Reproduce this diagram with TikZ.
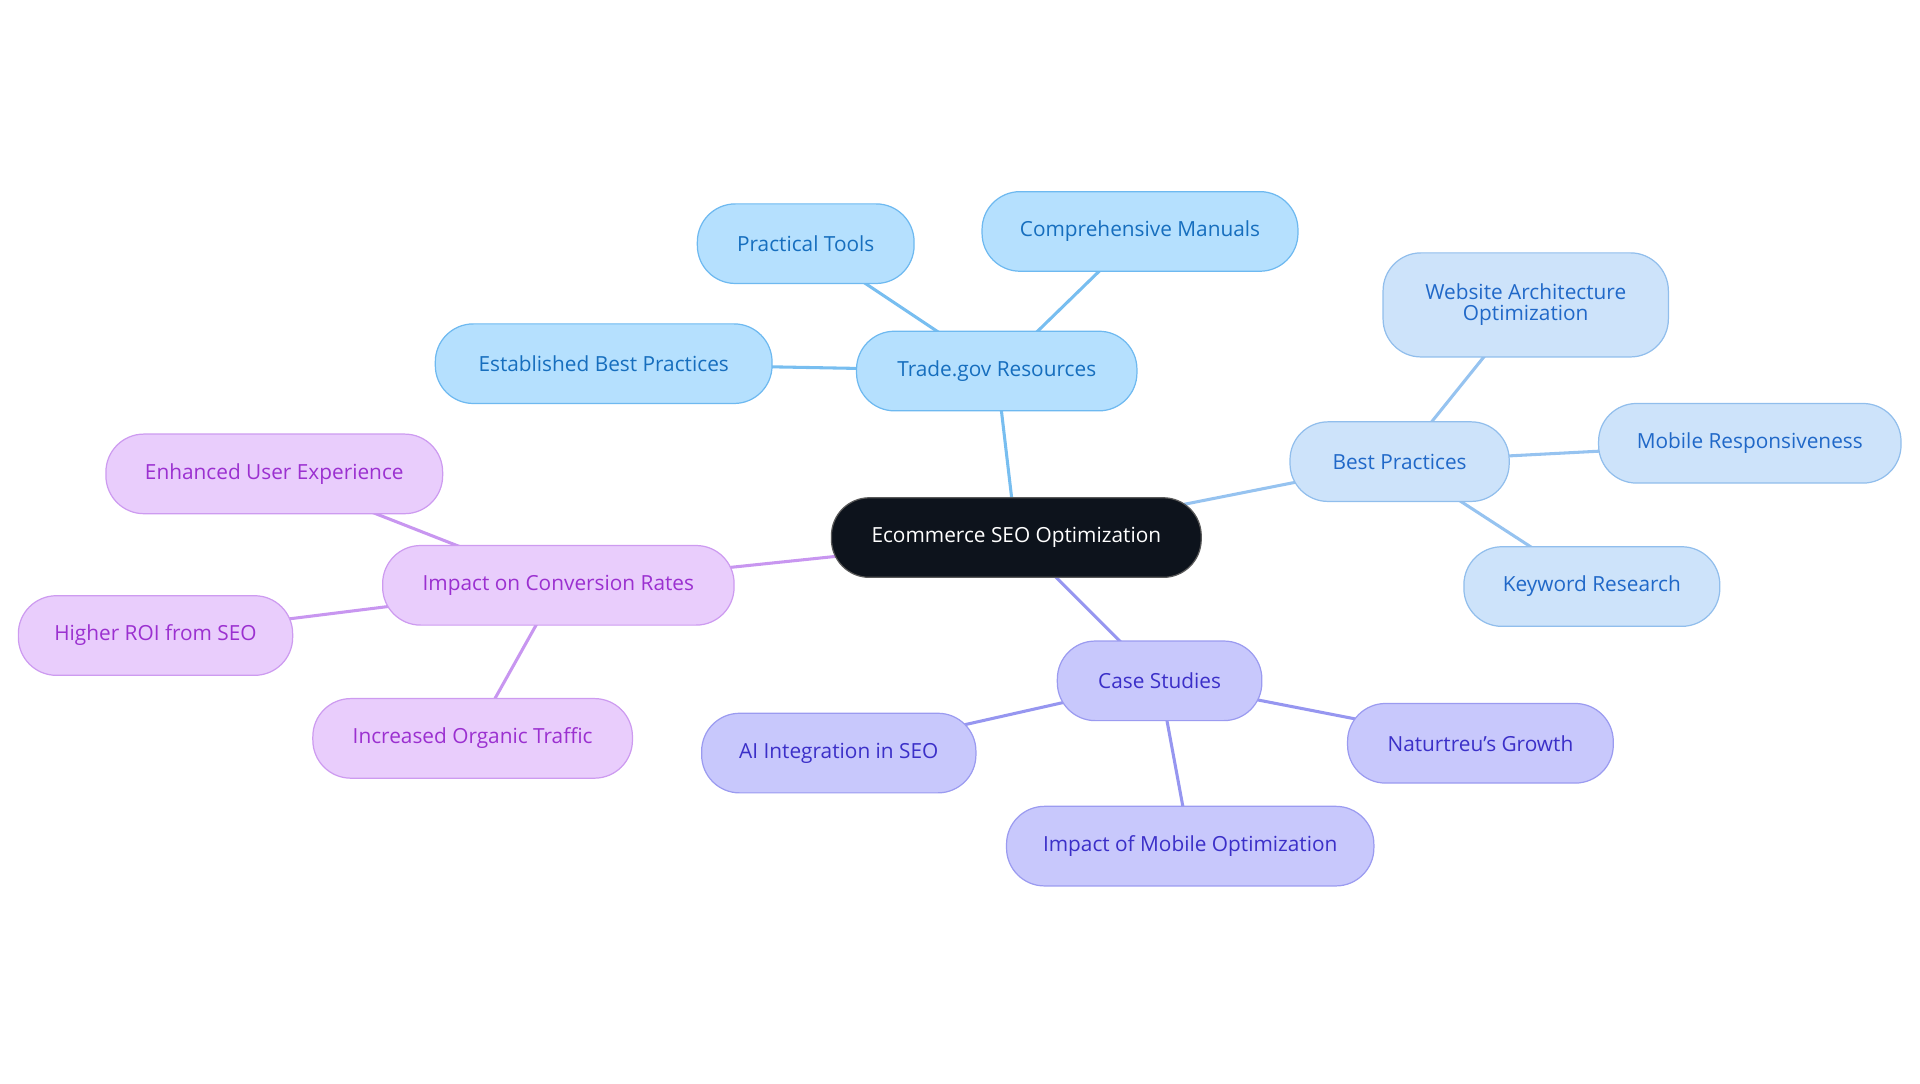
\documentclass[tikz,border=0pt]{standalone}
\usepackage{fontspec}
\setmainfont{Open Sans}
\usetikzlibrary{backgrounds}
\definecolor{cfill}{RGB}{13,19,28}
\definecolor{tbf}{RGB}{181,224,254}\definecolor{tbd}{RGB}{110,185,240}\definecolor{tbt}{RGB}{22,110,190}\definecolor{tbe}{RGB}{120,190,240}
\definecolor{bpf}{RGB}{205,227,250}\definecolor{bpd}{RGB}{145,190,236}\definecolor{bpt}{RGB}{32,104,200}\definecolor{bpe}{RGB}{150,195,240}
\definecolor{csf}{RGB}{200,200,252}\definecolor{csd}{RGB}{155,155,240}\definecolor{cst}{RGB}{59,47,200}\definecolor{cse}{RGB}{150,150,240}
\definecolor{icf}{RGB}{233,205,252}\definecolor{icd}{RGB}{205,155,240}\definecolor{ict}{RGB}{155,48,208}\definecolor{ice}{RGB}{200,150,240}
\begin{document}
\begin{tikzpicture}[x=1pt,y=-1pt,
 base/.style={rounded corners=31pt,minimum height=65pt,inner sep=0pt,line width=1pt,font=\fontsize{17}{20}\selectfont,align=center},
 cen/.style={base,fill=cfill,draw=gray!70!black,text=white},
 tb/.style={base,fill=tbf,draw=tbd,text=tbt},
 bp/.style={base,fill=bpf,draw=bpd,text=bpt},
 cs/.style={base,fill=csf,draw=csd,text=cst},
 ic/.style={base,fill=icf,draw=icd,text=ict},
 etb/.style={line width=2.5pt,draw=tbe},
 ebp/.style={line width=2.5pt,draw=bpe},
 ecs/.style={line width=2.5pt,draw=cse},
 eic/.style={line width=2.5pt,draw=ice}]
\useasboundingbox (0,0) rectangle (1568,884.5);
\node[cen,minimum width=302pt] (c) at (830,439) {Ecommerce SEO Optimization};
\node[tb,minimum width=229pt] (t) at (814,303) {Trade.gov Resources};
\node[tb,minimum width=177pt] (t1) at (658,199) {Practical Tools};
\node[tb,minimum width=258pt] (t2) at (931,189) {Comprehensive Manuals};
\node[tb,minimum width=275pt] (t3) at (493,297) {Established Best Practices};
\node[bp,minimum width=179pt] (b) at (1143,377) {Best Practices};
\node[bp,minimum width=233pt,minimum height=85pt] (b1) at (1246,249) {Website Architecture\\[-3pt]Optimization};
\node[bp,minimum width=247pt] (b2) at (1429,362) {Mobile Responsiveness};
\node[bp,minimum width=209pt] (b3) at (1300,479) {Keyword Research};
\node[cs,minimum width=167pt] (s) at (947,556) {Case Studies};
\node[cs,minimum width=224pt] (s1) at (685,615) {AI Integration in SEO};
\node[cs,minimum width=217pt] (s2) at (1209,607) {Naturtreu's Growth};
\node[cs,minimum width=300pt] (s3) at (972,691) {Impact of Mobile Optimization};
\node[ic,minimum width=287pt] (i) at (456,478) {Impact on Conversion Rates};
\node[ic,minimum width=275pt] (i1) at (224,387) {Enhanced User Experience};
\node[ic,minimum width=224pt] (i2) at (127,519) {Higher ROI from SEO};
\node[ic,minimum width=261pt] (i3) at (386,603) {Increased Organic Traffic};
\begin{scope}[on background layer]
\draw[etb] (c.center)--(t.center) (t.center)--(t1.center) (t.center)--(t2.center) (t.center)--(t3.center);
\draw[ebp] (c.center)--(b.center) (b.center)--(b1.center) (b.center)--(b2.center) (b.center)--(b3.center);
\draw[ecs] (c.center)--(s.center) (s.center)--(s1.center) (s.center)--(s2.center) (s.center)--(s3.center);
\draw[eic] (c.center)--(i.center) (i.center)--(i1.center) (i.center)--(i2.center) (i.center)--(i3.center);
\end{scope}
\end{tikzpicture}
\end{document}
